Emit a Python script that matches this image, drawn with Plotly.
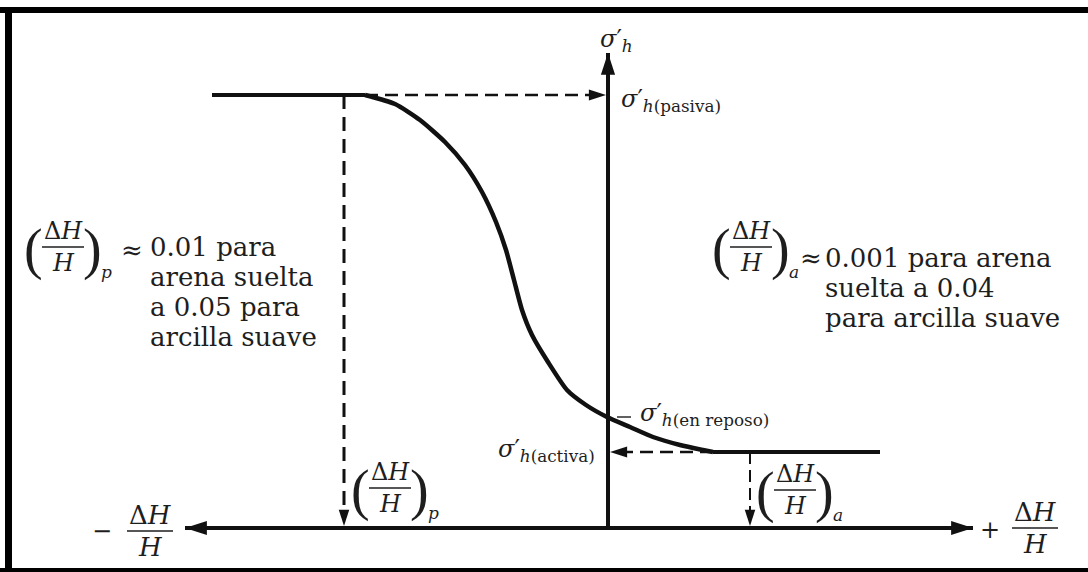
import plotly.graph_objects as go

# ---------------------------------------------------------------------------
# Horizontal effective stress vs. wall movement (ΔH/H) – schematic diagram
# Data units: 1 unit = 100 px, origin where the two axes cross.
# ---------------------------------------------------------------------------
W, HGT = 1088, 572
X0, Y0, S = 608, 528, 100

def dx(p):
    return (p - X0) / S

def dy(p):
    return (Y0 - p) / S

# ---- diagram values ------------------------------------------------------
strain_axis = [-4.23, 3.65]          # ends of the ΔH/H axis
stress_axis = [0.0, 4.75]            # σ'h axis

sigma_pasiva = 4.33
sigma_activa = 0.76
sigma_reposo = 1.11

strain_p = -2.64                     # (ΔH/H)p
strain_a = 1.42                      # (ΔH/H)a

plateau_p = [-3.96, -2.43]           # passive plateau
plateau_a = [1.05, 2.72]             # active plateau

curve_x = [-2.43, -2.13, -1.88, -1.63, -1.43, -1.26, -1.12, -1.02, -0.94,
           -0.86, -0.76, -0.60, -0.41, -0.22, -0.01, 0.22, 0.45, 0.72,
           0.95, 1.05]
curve_y = [4.33, 4.24, 4.08, 3.86, 3.63, 3.36, 3.06, 2.78, 2.48,
           2.18, 1.93, 1.66, 1.38, 1.23, 1.11, 1.01, 0.91, 0.83,
           0.78, 0.76]

INK = "#111111"
TXT = "#1e1e1e"
SERIF = "DejaVu Serif"
PAREN = "Liberation Serif"

fig = go.Figure()

def line(x, y, width=4.0, dash="solid", shape="linear"):
    fig.add_trace(go.Scatter(x=x, y=y, mode="lines", hoverinfo="skip",
                             line=dict(color=INK, width=width, dash=dash,
                                       shape=shape, smoothing=0.6)))

def heads(x, y, angles, size):
    fig.add_trace(go.Scatter(x=x, y=y, mode="markers", hoverinfo="skip",
                             marker=dict(symbol="arrow", size=size, angle=angles,
                                         color=INK, line=dict(width=0))))

# axes
line(strain_axis, [0, 0], width=4)
line([0, 0], stress_axis, width=4)
heads([strain_axis[0], strain_axis[1], 0], [0, 0, stress_axis[1]],
      [270, 90, 0], 23)

# stress–strain curve with its two plateaus
line(plateau_p, [sigma_pasiva, sigma_pasiva], width=4)
line(curve_x, curve_y, width=4.5, shape="spline")
line(plateau_a, [sigma_activa, sigma_activa], width=4)

# dashed leaders
line([curve_x[0], -0.12], [sigma_pasiva, sigma_pasiva], width=2.5, dash="13px,7px")
line([strain_p, strain_p], [sigma_pasiva, 0.12], width=3, dash="14px,8px")
line([curve_x[-1], 0.12], [sigma_activa, sigma_activa], width=2.5, dash="13px,7px")
line([strain_a, strain_a], [sigma_activa, 0.12], width=2, dash="12px,6px")
heads([-0.02, 0.02], [sigma_pasiva, sigma_activa], [90, 270], 18)
heads([strain_p, strain_a], [0.02, 0.02], [180, 180], 17)

# ---- text -----------------------------------------------------------------
annotations = []
shapes = []

def text(x, y, s, size=26, xanchor="left", yanchor="middle", family=SERIF):
    annotations.append(dict(x=dx(x), y=dy(y), xref="x", yref="y", text=s,
                            showarrow=False, xanchor=xanchor, yanchor=yanchor,
                            font=dict(family=family, size=size, color=TXT)))

def bar(x0, x1, y, width=1.6):
    shapes.append(dict(type="line", xref="x", yref="y", x0=dx(x0), x1=dx(x1),
                       y0=dy(y), y1=dy(y), line=dict(color=TXT, width=width)))

def ratio(cx, cy, half=21, size=24, gap=16):
    text(cx, cy - gap, "Δ<i>H</i>", size, "center")
    text(cx, cy + gap, "<i>H</i>", size, "center")
    bar(cx - half, cx + half, cy)

def paren_ratio(cx, cy, sub, half=21):
    ratio(cx, cy, half)
    text(cx - 30, cy + 2, "(", 56, "center", family=PAREN)
    text(cx + 29, cy + 2, ")", 56, "center", family=PAREN)
    text(cx + 36, cy + 25, "<i>%s</i>" % sub, 17, "left")

def sigma(x, y, sub, xanchor="left"):
    # effective horizontal stress: σ′ with subscript h(...)
    text(x, y, "<i>σ</i>′<sub><i>h</i>%s</sub>" % sub, 24, xanchor)

# σ'h axis title
sigma(598, 40, "")

# σ'h(pasiva)
sigma(619, 100, "(pasiva)")

# σ'h(en reposo)
bar(617, 631, 417, width=1.4)
sigma(638, 414, "(en reposo)")

# σ'h(activa)
sigma(597, 450, "(activa)", xanchor="right")

# strain axis labels
text(102, 531, "−", 24, "center")
ratio(150, 531, half=23, size=26)
text(990, 530, "+", 24, "center")
ratio(1035, 528, half=23, size=26)

# (ΔH/H)p and (ΔH/H)a on the strain axis
paren_ratio(390, 488, "p")
paren_ratio(795, 490, "a")

# passive-side note
paren_ratio(63, 247, "p")
text(132, 250, "≈", 26, "center")
text(148, 247, "0.01 para")
text(148, 277, "arena suelta")
text(148, 307, "a 0.05 para")
text(148, 337, "arcilla suave")

# active-side note
paren_ratio(751, 247, "a")
text(811, 258, "≈", 26, "center")
text(823, 258, "0.001 para arena")
text(823, 288, "suelta a 0.04")
text(823, 318, "para arcilla suave")

# frame
shapes += [
    dict(type="rect", xref="paper", yref="paper", x0=0, x1=1,
         y0=1 - 13 / HGT, y1=1 - 7 / HGT, fillcolor="black", line=dict(width=0)),
    dict(type="rect", xref="paper", yref="paper", x0=5 / W, x1=12 / W,
         y0=0, y1=1 - 7 / HGT, fillcolor="black", line=dict(width=0)),
    dict(type="rect", xref="paper", yref="paper", x0=0, x1=1,
         y0=0, y1=4 / HGT, fillcolor="black", line=dict(width=0)),
]

fig.update_layout(
    width=W, height=HGT, autosize=False,
    margin=dict(l=0, r=0, t=0, b=0, pad=0),
    paper_bgcolor="white", plot_bgcolor="white",
    showlegend=False,
    xaxis=dict(range=[dx(0), dx(W)], visible=False, fixedrange=True),
    yaxis=dict(range=[dy(HGT), dy(0)], visible=False, fixedrange=True),
    annotations=annotations, shapes=shapes,
)

fig.write_html("out.html", config={"displayModeBar": False})
